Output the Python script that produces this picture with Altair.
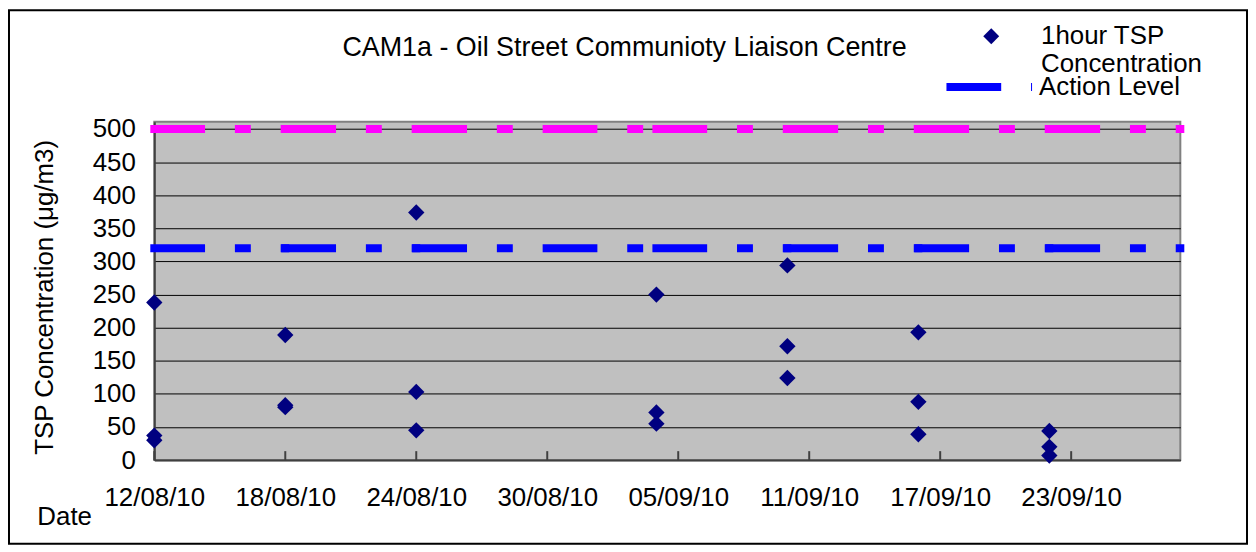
import altair as alt
import pandas as pd

# ---- data ----
sample_dates = ["2010-08-12", "2010-08-18", "2010-08-24", "2010-09-04",
                "2010-09-10", "2010-09-16", "2010-09-22"]
tsp_values = [[238, 37, 30], [189, 83, 80], [374, 103, 45], [250, 72, 55],
              [294, 172, 124], [193, 88, 39], [44, 20, 7]]
line_dates = sample_dates + ["2010-09-28"]
action_level = 320
limit_level = 500
xtick_dates = ["2010-08-12", "2010-08-18", "2010-08-24", "2010-08-30",
               "2010-09-05", "2010-09-11", "2010-09-17", "2010-09-23"]
y_ticks = [0, 50, 100, 150, 200, 250, 300, 350, 400, 450, 500]
series_name = "1hour TSP\nConcentration"
action_name = "Action Level"
title_text = "CAM1a - Oil Street Communioty Liaison Centre"

FONT = "Liberation Sans"
FS = 26
W, H = 1031, 340

rows = []
for d, vals in zip(sample_dates, tsp_values):
    for v in vals:
        rows.append({"date": d, "value": v, "series": series_name})
pts = pd.DataFrame(rows)

segs = pd.DataFrame({"start": line_dates[:-1], "end": line_dates[1:]})
segs_action = segs.assign(level=action_level, lvl=action_name)
segs_limit = segs.assign(level=limit_level)
ticks_df = pd.DataFrame({"date": xtick_dates})

x_scale = alt.Scale(type="utc", nice=False,
                    domain=[alt.DateTime(year=2010, month=8, date=12, utc=True),
                            alt.DateTime(year=2010, month=9, date=28, utc=True)])
y_scale = alt.Scale(domain=[0, 511], nice=False, zero=False)

x_axis = alt.Axis(
    values=[alt.DateTime(year=int(d[:4]), month=int(d[5:7]), date=int(d[8:]), utc=True)
            for d in xtick_dates],
    labelExpr="utcFormat(datum.value, '%d/%m/%y')",
    ticks=False, grid=False, labelOverlap=False,
    labelFontSize=FS, labelFont=FONT, labelColor="black", labelPadding=25,
    labelBaseline="top", labelFlush=False,
    domainColor="#404040", domainWidth=2,
    title="Date", titleFont=FONT, titleFontSize=FS, titleFontWeight="normal",
    titleColor="black", titleAnchor="start", titleAlign="left",
    titleX=-118, titleY=57, titleBaseline="middle",
)
y_axis = alt.Axis(
    values=y_ticks, tickCount=11, ticks=False, grid=True, gridColor="black",
    gridWidth=1, labelOverlap=False,
    labelFontSize=FS, labelFont=FONT, labelColor="black", labelPadding=19,
    domainColor="#404040", domainWidth=2,
    title="TSP Concentration (μg/m3)", titleFont=FONT, titleFontSize=FS,
    titleFontWeight="normal", titleColor="black", titleAngle=270,
    titleX=-110, titleY=176, titleAlign="center", titleBaseline="middle",
)

dash = [47, 38, 8, 38]

limit = alt.Chart(segs_limit).mark_rule(
    strokeWidth=8, strokeCap="square", strokeDash=dash, color="#FF00FF"
).encode(
    x=alt.X("start:T", scale=x_scale, axis=x_axis),
    x2="end:T",
    y=alt.Y("level:Q", scale=y_scale, axis=y_axis),
)

action = alt.Chart(segs_action).mark_rule(
    strokeWidth=8, strokeCap="square", strokeDash=dash
).encode(
    x=alt.X("start:T", scale=x_scale, axis=x_axis),
    x2="end:T",
    y=alt.Y("level:Q", scale=y_scale, axis=y_axis),
    color=alt.Color("lvl:N", scale=alt.Scale(domain=[action_name], range=["#0000FF"]),
                    legend=alt.Legend(
                        title=None, orient="none", legendX=792, legendY=-82,
                        symbolType="stroke", symbolStrokeWidth=8, symbolSize=7396,
                        symbolDash=[55, 30, 16, 30], symbolStrokeColor="#0000FF",
                        labelFont=FONT, labelFontSize=FS, labelColor="black",
                        labelOffset=3, padding=0, labelLimit=400)),
)

inner_ticks = alt.Chart(ticks_df).mark_rule(color="#404040", strokeWidth=2).encode(
    x=alt.X("date:T", scale=x_scale, axis=x_axis),
    y=alt.value(H),
    y2=alt.value(H - 9),
)

points = alt.Chart(pts).mark_point(filled=True, size=270, opacity=1,
                                   shape="diamond").encode(
    x=alt.X("date:T", scale=x_scale, axis=x_axis),
    y=alt.Y("value:Q", scale=y_scale, axis=y_axis),
    fill=alt.Fill("series:N", scale=alt.Scale(domain=[series_name], range=["#000080"]),
                  legend=alt.Legend(
                      title=None, orient="none", legendX=828, legendY=-91,
                      symbolType="M-1,-1L0,-2L1,-1L0,0Z",
                      symbolSize=256, symbolFillColor="#000080",
                      symbolStrokeWidth=0,
                      labelExpr="split(datum.label, '\\n')",
                      labelFont=FONT, labelFontSize=FS, labelColor="black",
                      labelOffset=37, labelBaseline="alphabetic", padding=0,
                      labelLimit=400)),
)

title = alt.Chart(pd.DataFrame({"t": [title_text]})).mark_text(
    font=FONT, fontSize=27, color="black", align="center", baseline="middle"
).encode(
    text="t:N",
    x=alt.value(W / 2 - 43),
    y=alt.value(47 - 121),
)

frame = alt.Chart(pd.DataFrame({"a": [0]})).mark_rect(
    filled=False, stroke="black", strokeWidth=2
).encode(
    x=alt.value(-146), x2=alt.value(W + 67),
    y=alt.value(-112), y2=alt.value(H + 84),
)

chart = alt.layer(limit, action, inner_ticks, points, title, frame).properties(
    width=W, height=H,
    autosize=alt.AutoSizeParams(type="none"),
    padding={"left": 147, "top": 113, "right": 68, "bottom": 85},
    background="white",
).configure_view(
    fill="#C0C0C0", stroke="#808080", strokeWidth=2
).resolve_scale(fill="independent", color="independent"
).resolve_legend(color="independent", fill="independent")

chart.save("out.html", embed_options={"renderer": "svg", "actions": False})
